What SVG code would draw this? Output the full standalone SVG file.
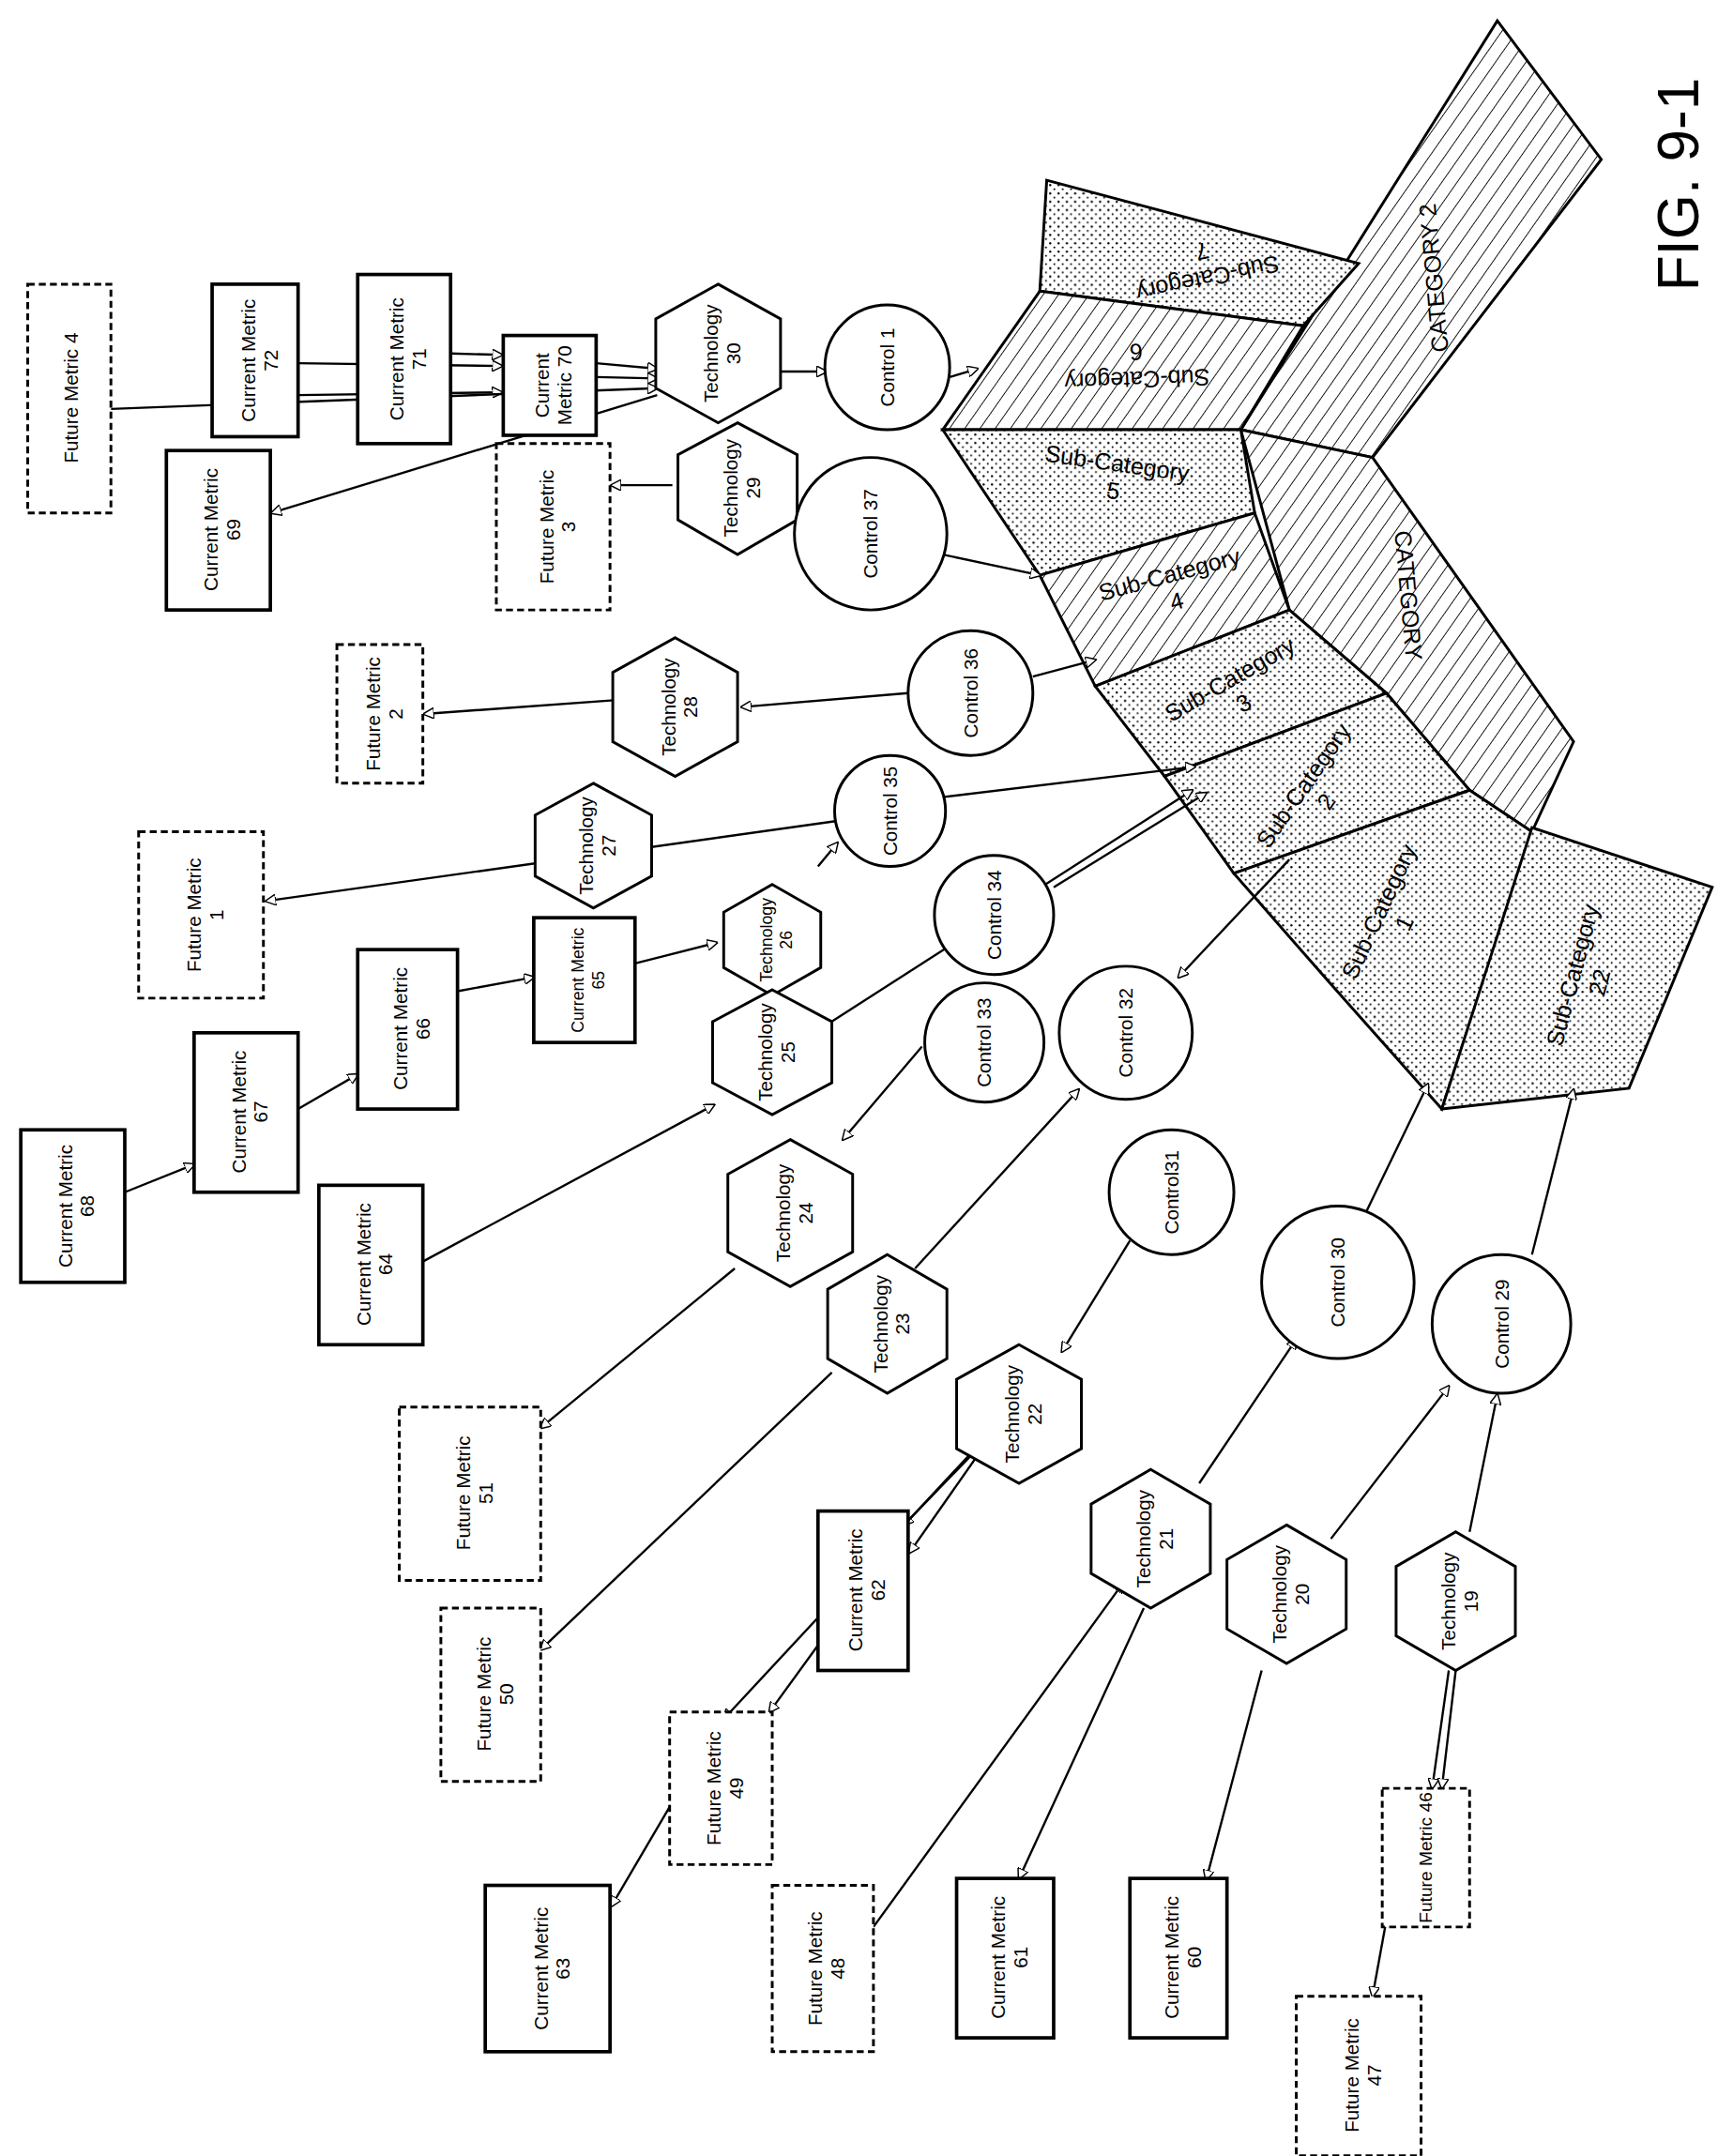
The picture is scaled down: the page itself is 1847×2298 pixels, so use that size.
<svg xmlns="http://www.w3.org/2000/svg" width="1847" height="2298" viewBox="0 0 1847 2298">
<style>
.r{fill:#fff;stroke:#000;stroke-width:2.5}
.d{fill:#fff;stroke:#000;stroke-width:2;stroke-dasharray:5 3}
.n{fill:#fff;stroke:#000;stroke-width:2}
.t{font-family:"Liberation Sans",Arial,sans-serif;font-size:14px;text-anchor:middle;fill:#000}
.big{font-family:"Liberation Sans",Arial,sans-serif;font-size:42px;fill:#000}
.c line{stroke:#000;stroke-width:1.6;marker-end:url(#a)}
.b{stroke:#000;stroke-width:2}
</style>
<defs>
<marker id="a" markerWidth="8" markerHeight="8" refX="7" refY="4" orient="auto" markerUnits="userSpaceOnUse"><path d="M0,0 L8,4 L0,8 Z" fill="#fff" stroke="#000" stroke-width="1"/></marker>
<pattern id="dot" width="6" height="6" patternUnits="userSpaceOnUse"><rect width="6" height="6" fill="#fff"/><circle cx="1.5" cy="1.5" r="0.8" fill="#000"/><circle cx="4.5" cy="4.5" r="0.7" fill="#000"/></pattern>
<pattern id="hat" width="9" height="9" patternUnits="userSpaceOnUse" patternTransform="rotate(35)"><rect width="9" height="9" fill="#fff"/><line x1="0" y1="0" x2="0" y2="9" stroke="#000" stroke-width="1.2"/></pattern>
</defs>
<rect width="1847" height="2298" fill="#fff"/>
<g transform="scale(1.4776)">
<g id="shapes">
<polygon class="b" fill="url(#hat)" points="1080,15 1155,115 990,330 895,310"/>
<polygon class="b" fill="url(#dot)" points="755,130 980,190 940,235 750,210"/>
<polygon class="b" fill="url(#hat)" points="750,210 940,235 895,310 680,310"/>
<polygon class="b" fill="url(#hat)" points="895,310 990,330 1135,535 1105,600 1060,570 1000,500 930,440"/>
<polygon class="b" fill="url(#dot)" points="680,310 895,310 905,370 750,415"/>
<polygon class="b" fill="url(#hat)" points="750,415 905,370 930,440 790,495"/>
<polygon class="b" fill="url(#dot)" points="790,495 930,440 1000,500 840,560"/>
<polygon class="b" fill="url(#dot)" points="840,560 1000,500 1060,570 890,630"/>
<polygon class="b" fill="url(#dot)" points="890,630 1060,570 1105,600 1040,800 960,710"/>
<polygon class="b" fill="url(#dot)" points="1040,800 1105,597 1235,640 1175,785"/>
<g class="t" style="font-size:17px">
<text transform="translate(870,195) rotate(168)">Sub-Category<tspan x="0" dy="20">7</tspan></text>
<text transform="translate(820,268) rotate(178)">Sub-Category<tspan x="0" dy="20">6</tspan></text>
<text transform="translate(1040,200) rotate(-95)">CATEGORY 2</text>
<text transform="translate(805,340) rotate(8)">Sub-Category<tspan x="0" dy="20">5</tspan></text>
<text transform="translate(845,420) rotate(-15)">Sub-Category<tspan x="0" dy="20">4</tspan></text>
<text transform="translate(890,495) rotate(-30)">Sub-Category<tspan x="0" dy="20">3</tspan></text>
<text transform="translate(945,570) rotate(-55)">Sub-Category<tspan x="0" dy="20">2</tspan></text>
<text transform="translate(1000,660) rotate(-65)">Sub-Category<tspan x="0" dy="20">1</tspan></text>
<text transform="translate(1010,430) rotate(85)">CATEGORY</text>
<text transform="translate(1140,705) rotate(-75)">Sub-Category<tspan x="0" dy="20">22</tspan></text>
</g>
</g>
<g id="connectors" class="c">
<line x1="90" y1="860" x2="140" y2="840"/>
<line x1="215" y1="800" x2="258" y2="775"/>
<line x1="330" y1="715" x2="385" y2="705"/>
<line x1="458" y1="695" x2="517" y2="680"/>
<line x1="590" y1="625" x2="604" y2="608"/>
<line x1="305" y1="910" x2="515" y2="797"/>
<line x1="595" y1="740" x2="860" y2="570"/>
<line x1="605" y1="592" x2="192" y2="650"/>
<line x1="680" y1="575" x2="862" y2="553"/>
<line x1="655" y1="500" x2="535" y2="510"/>
<line x1="445" y1="505" x2="306" y2="515"/>
<line x1="745" y1="488" x2="790" y2="476"/>
<line x1="485" y1="350" x2="441" y2="350"/>
<line x1="680" y1="400" x2="750" y2="415"/>
<line x1="563" y1="268" x2="596" y2="268"/>
<line x1="685" y1="272" x2="705" y2="266"/>
<line x1="430" y1="262" x2="474" y2="266"/>
<line x1="430" y1="272" x2="474" y2="273"/>
<line x1="325" y1="255" x2="362" y2="256"/>
<line x1="215" y1="262" x2="362" y2="264"/>
<line x1="215" y1="285" x2="362" y2="283"/>
<line x1="80" y1="295" x2="474" y2="280"/>
<line x1="474" y1="285" x2="196" y2="370"/>
<line x1="760" y1="640" x2="870" y2="572"/>
<line x1="665" y1="755" x2="608" y2="822"/>
<line x1="660" y1="915" x2="778" y2="786"/>
<line x1="930" y1="620" x2="850" y2="705"/>
<line x1="530" y1="915" x2="390" y2="1030"/>
<line x1="600" y1="990" x2="390" y2="1190"/>
<line x1="815" y1="895" x2="766" y2="975"/>
<line x1="710" y1="1040" x2="652" y2="1100"/>
<line x1="712" y1="1040" x2="656" y2="1120"/>
<line x1="708" y1="1040" x2="522" y2="1240"/>
<line x1="595" y1="1180" x2="555" y2="1235"/>
<line x1="485" y1="1300" x2="441" y2="1375"/>
<line x1="865" y1="1070" x2="935" y2="966"/>
<line x1="630" y1="1390" x2="810" y2="1142"/>
<line x1="825" y1="1160" x2="735" y2="1355"/>
<line x1="985" y1="875" x2="1030" y2="782"/>
<line x1="960" y1="1110" x2="1045" y2="1000"/>
<line x1="910" y1="1205" x2="870" y2="1356"/>
<line x1="1105" y1="905" x2="1135" y2="786"/>
<line x1="1060" y1="1105" x2="1080" y2="1006"/>
<line x1="1045" y1="1205" x2="1033" y2="1290"/>
<line x1="1050" y1="1205" x2="1040" y2="1290"/>
<line x1="1000" y1="1385" x2="990" y2="1440"/>
</g>
<g id="cm68"><rect class="r" x="15" y="815" width="75" height="110"/><text class="t" transform="translate(52,870) rotate(-90)">Current Metric<tspan x="0" dy="16">68</tspan></text></g>
<g id="cm67"><rect class="r" x="140" y="745" width="75" height="115"/><text class="t" transform="translate(177,802) rotate(-90)">Current Metric<tspan x="0" dy="16">67</tspan></text></g>
<g id="cm66"><rect class="r" x="258" y="685" width="72" height="115"/><text class="t" transform="translate(294,742) rotate(-90)">Current Metric<tspan x="0" dy="16">66</tspan></text></g>
<g id="cm65"><rect class="r" x="385" y="662" width="73" height="90"/><text class="t" style="font-size:12px" transform="translate(421,707) rotate(-90)">Current Metric<tspan x="0" dy="15">65</tspan></text></g>
<g id="cm64"><rect class="r" x="230" y="855" width="75" height="115"/><text class="t" transform="translate(267,912) rotate(-90)">Current Metric<tspan x="0" dy="16">64</tspan></text></g>
<g id="cm69"><rect class="r" x="120" y="325" width="75" height="115"/><text class="t" transform="translate(157,382) rotate(-90)">Current Metric<tspan x="0" dy="16">69</tspan></text></g>
<g id="cm72"><rect class="r" x="153" y="205" width="62" height="110"/><text class="t" transform="translate(184,260) rotate(-90)">Current Metric<tspan x="0" dy="16">72</tspan></text></g>
<g id="cm71"><rect class="r" x="258" y="198" width="67" height="122"/><text class="t" transform="translate(291,259) rotate(-90)">Current Metric<tspan x="0" dy="16">71</tspan></text></g>
<g id="cm70"><rect class="r" x="363" y="242" width="67" height="72"/><text class="t" transform="translate(396,278) rotate(-90)">Current<tspan x="0" dy="16">Metric 70</tspan></text></g>
<g id="cm62"><rect class="r" x="590" y="1090" width="65" height="115"/><text class="t" transform="translate(622,1147) rotate(-90)">Current Metric<tspan x="0" dy="16">62</tspan></text></g>
<g id="cm63"><rect class="r" x="350" y="1360" width="90" height="120"/><text class="t" transform="translate(395,1420) rotate(-90)">Current Metric<tspan x="0" dy="16">63</tspan></text></g>
<g id="cm61"><rect class="r" x="690" y="1355" width="70" height="115"/><text class="t" transform="translate(725,1412) rotate(-90)">Current Metric<tspan x="0" dy="16">61</tspan></text></g>
<g id="cm60"><rect class="r" x="815" y="1355" width="70" height="115"/><text class="t" transform="translate(850,1412) rotate(-90)">Current Metric<tspan x="0" dy="16">60</tspan></text></g>
<g id="fm4"><rect class="d" x="20" y="205" width="60" height="165"/><text class="t" transform="translate(56,287) rotate(-90)">Future Metric 4</text></g>
<g id="fm3"><rect class="d" x="358" y="320" width="82" height="120"/><text class="t" transform="translate(399,380) rotate(-90)">Future Metric<tspan x="0" dy="16">3</tspan></text></g>
<g id="fm2"><rect class="d" x="243" y="465" width="62" height="100"/><text class="t" transform="translate(274,515) rotate(-90)">Future Metric<tspan x="0" dy="16">2</tspan></text></g>
<g id="fm1"><rect class="d" x="100" y="600" width="90" height="120"/><text class="t" transform="translate(145,660) rotate(-90)">Future Metric<tspan x="0" dy="16">1</tspan></text></g>
<g id="fm51"><rect class="d" x="288" y="1015" width="102" height="125"/><text class="t" transform="translate(339,1077) rotate(-90)">Future Metric<tspan x="0" dy="16">51</tspan></text></g>
<g id="fm50"><rect class="d" x="318" y="1160" width="72" height="125"/><text class="t" transform="translate(354,1222) rotate(-90)">Future Metric<tspan x="0" dy="16">50</tspan></text></g>
<g id="fm49"><rect class="d" x="483" y="1235" width="74" height="110"/><text class="t" transform="translate(520,1290) rotate(-90)">Future Metric<tspan x="0" dy="16">49</tspan></text></g>
<g id="fm48"><rect class="d" x="557" y="1360" width="73" height="120"/><text class="t" transform="translate(593,1420) rotate(-90)">Future Metric<tspan x="0" dy="16">48</tspan></text></g>
<g id="fm46"><rect class="d" x="997" y="1290" width="63" height="100"/><text class="t" style="font-size:13px" transform="translate(1033,1340) rotate(-90)">Future Metric 46</text></g>
<g id="fm47"><rect class="d" x="935" y="1440" width="90" height="115"/><text class="t" transform="translate(980,1497) rotate(-90)">Future Metric<tspan x="0" dy="16">47</tspan></text></g>
<g id="t30"><polygon class="n" points="518,205 563,230 563,280 518,305 473,280 473,230"/><text class="t" transform="translate(518,255) rotate(-90)">Technology<tspan x="0" dy="16">30</tspan></text></g>
<g id="t29"><polygon class="n" points="532,305 575,328 575,375 532,400 489,375 489,328"/><text class="t" transform="translate(532,352) rotate(-90)">Technology<tspan x="0" dy="16">29</tspan></text></g>
<g id="t28"><polygon class="n" points="487,460 532,485 532,535 487,560 442,535 442,485"/><text class="t" transform="translate(487,510) rotate(-90)">Technology<tspan x="0" dy="16">28</tspan></text></g>
<g id="t27"><polygon class="n" points="428,565 470,588 470,632 428,655 386,632 386,588"/><text class="t" transform="translate(428,610) rotate(-90)">Technology<tspan x="0" dy="16">27</tspan></text></g>
<g id="t26"><polygon class="n" points="557,638 592,658 592,698 557,718 522,698 522,658"/><text class="t" style="font-size:12px" transform="translate(557,678) rotate(-90)">Technology<tspan x="0" dy="14">26</tspan></text></g>
<g id="t25"><polygon class="n" points="557,714 600,737 600,781 557,804 514,781 514,737"/><text class="t" transform="translate(557,759) rotate(-90)">Technology<tspan x="0" dy="16">25</tspan></text></g>
<g id="t24"><polygon class="n" points="570,822 615,847 615,903 570,928 525,903 525,847"/><text class="t" transform="translate(570,875) rotate(-90)">Technology<tspan x="0" dy="16">24</tspan></text></g>
<g id="t23"><polygon class="n" points="640,905 683,930 683,980 640,1005 597,980 597,930"/><text class="t" transform="translate(640,955) rotate(-90)">Technology<tspan x="0" dy="16">23</tspan></text></g>
<g id="t22"><polygon class="n" points="735,970 780,995 780,1045 735,1070 690,1045 690,995"/><text class="t" transform="translate(735,1020) rotate(-90)">Technology<tspan x="0" dy="16">22</tspan></text></g>
<g id="t21"><polygon class="n" points="830,1060 873,1085 873,1135 830,1160 787,1135 787,1085"/><text class="t" transform="translate(830,1110) rotate(-90)">Technology<tspan x="0" dy="16">21</tspan></text></g>
<g id="t20"><polygon class="n" points="928,1100 971,1125 971,1175 928,1200 885,1175 885,1125"/><text class="t" transform="translate(928,1150) rotate(-90)">Technology<tspan x="0" dy="16">20</tspan></text></g>
<g id="t19"><polygon class="n" points="1050,1105 1093,1130 1093,1180 1050,1205 1007,1180 1007,1130"/><text class="t" transform="translate(1050,1155) rotate(-90)">Technology<tspan x="0" dy="16">19</tspan></text></g>
<g id="c1"><circle class="n" cx="640" cy="265" r="45"/><text class="t" transform="translate(645,265) rotate(-90)">Control 1</text></g>
<g id="c37"><circle class="n" cx="628" cy="385" r="55"/><text class="t" transform="translate(633,385) rotate(-90)">Control 37</text></g>
<g id="c36"><circle class="n" cx="700" cy="500" r="45"/><text class="t" transform="translate(705,500) rotate(-90)">Control 36</text></g>
<g id="c35"><circle class="n" cx="642" cy="585" r="40"/><text class="t" transform="translate(647,585) rotate(-90)">Control 35</text></g>
<g id="c34"><circle class="n" cx="717" cy="660" r="43"/><text class="t" transform="translate(722,660) rotate(-90)">Control 34</text></g>
<g id="c33"><circle class="n" cx="710" cy="752" r="43"/><text class="t" transform="translate(715,752) rotate(-90)">Control 33</text></g>
<g id="c32"><circle class="n" cx="812" cy="745" r="48"/><text class="t" transform="translate(817,745) rotate(-90)">Control 32</text></g>
<g id="c31"><circle class="n" cx="845" cy="860" r="45"/><text class="t" transform="translate(850,860) rotate(-90)">Control31</text></g>
<g id="c30"><circle class="n" cx="965" cy="925" r="55"/><text class="t" transform="translate(970,925) rotate(-90)">Control 30</text></g>
<g id="c29"><circle class="n" cx="1083" cy="955" r="50"/><text class="t" transform="translate(1088,955) rotate(-90)">Control 29</text></g>
<text class="big" transform="translate(1225,210) rotate(-90)">FIG. 9-1</text>
</g>
</svg>
